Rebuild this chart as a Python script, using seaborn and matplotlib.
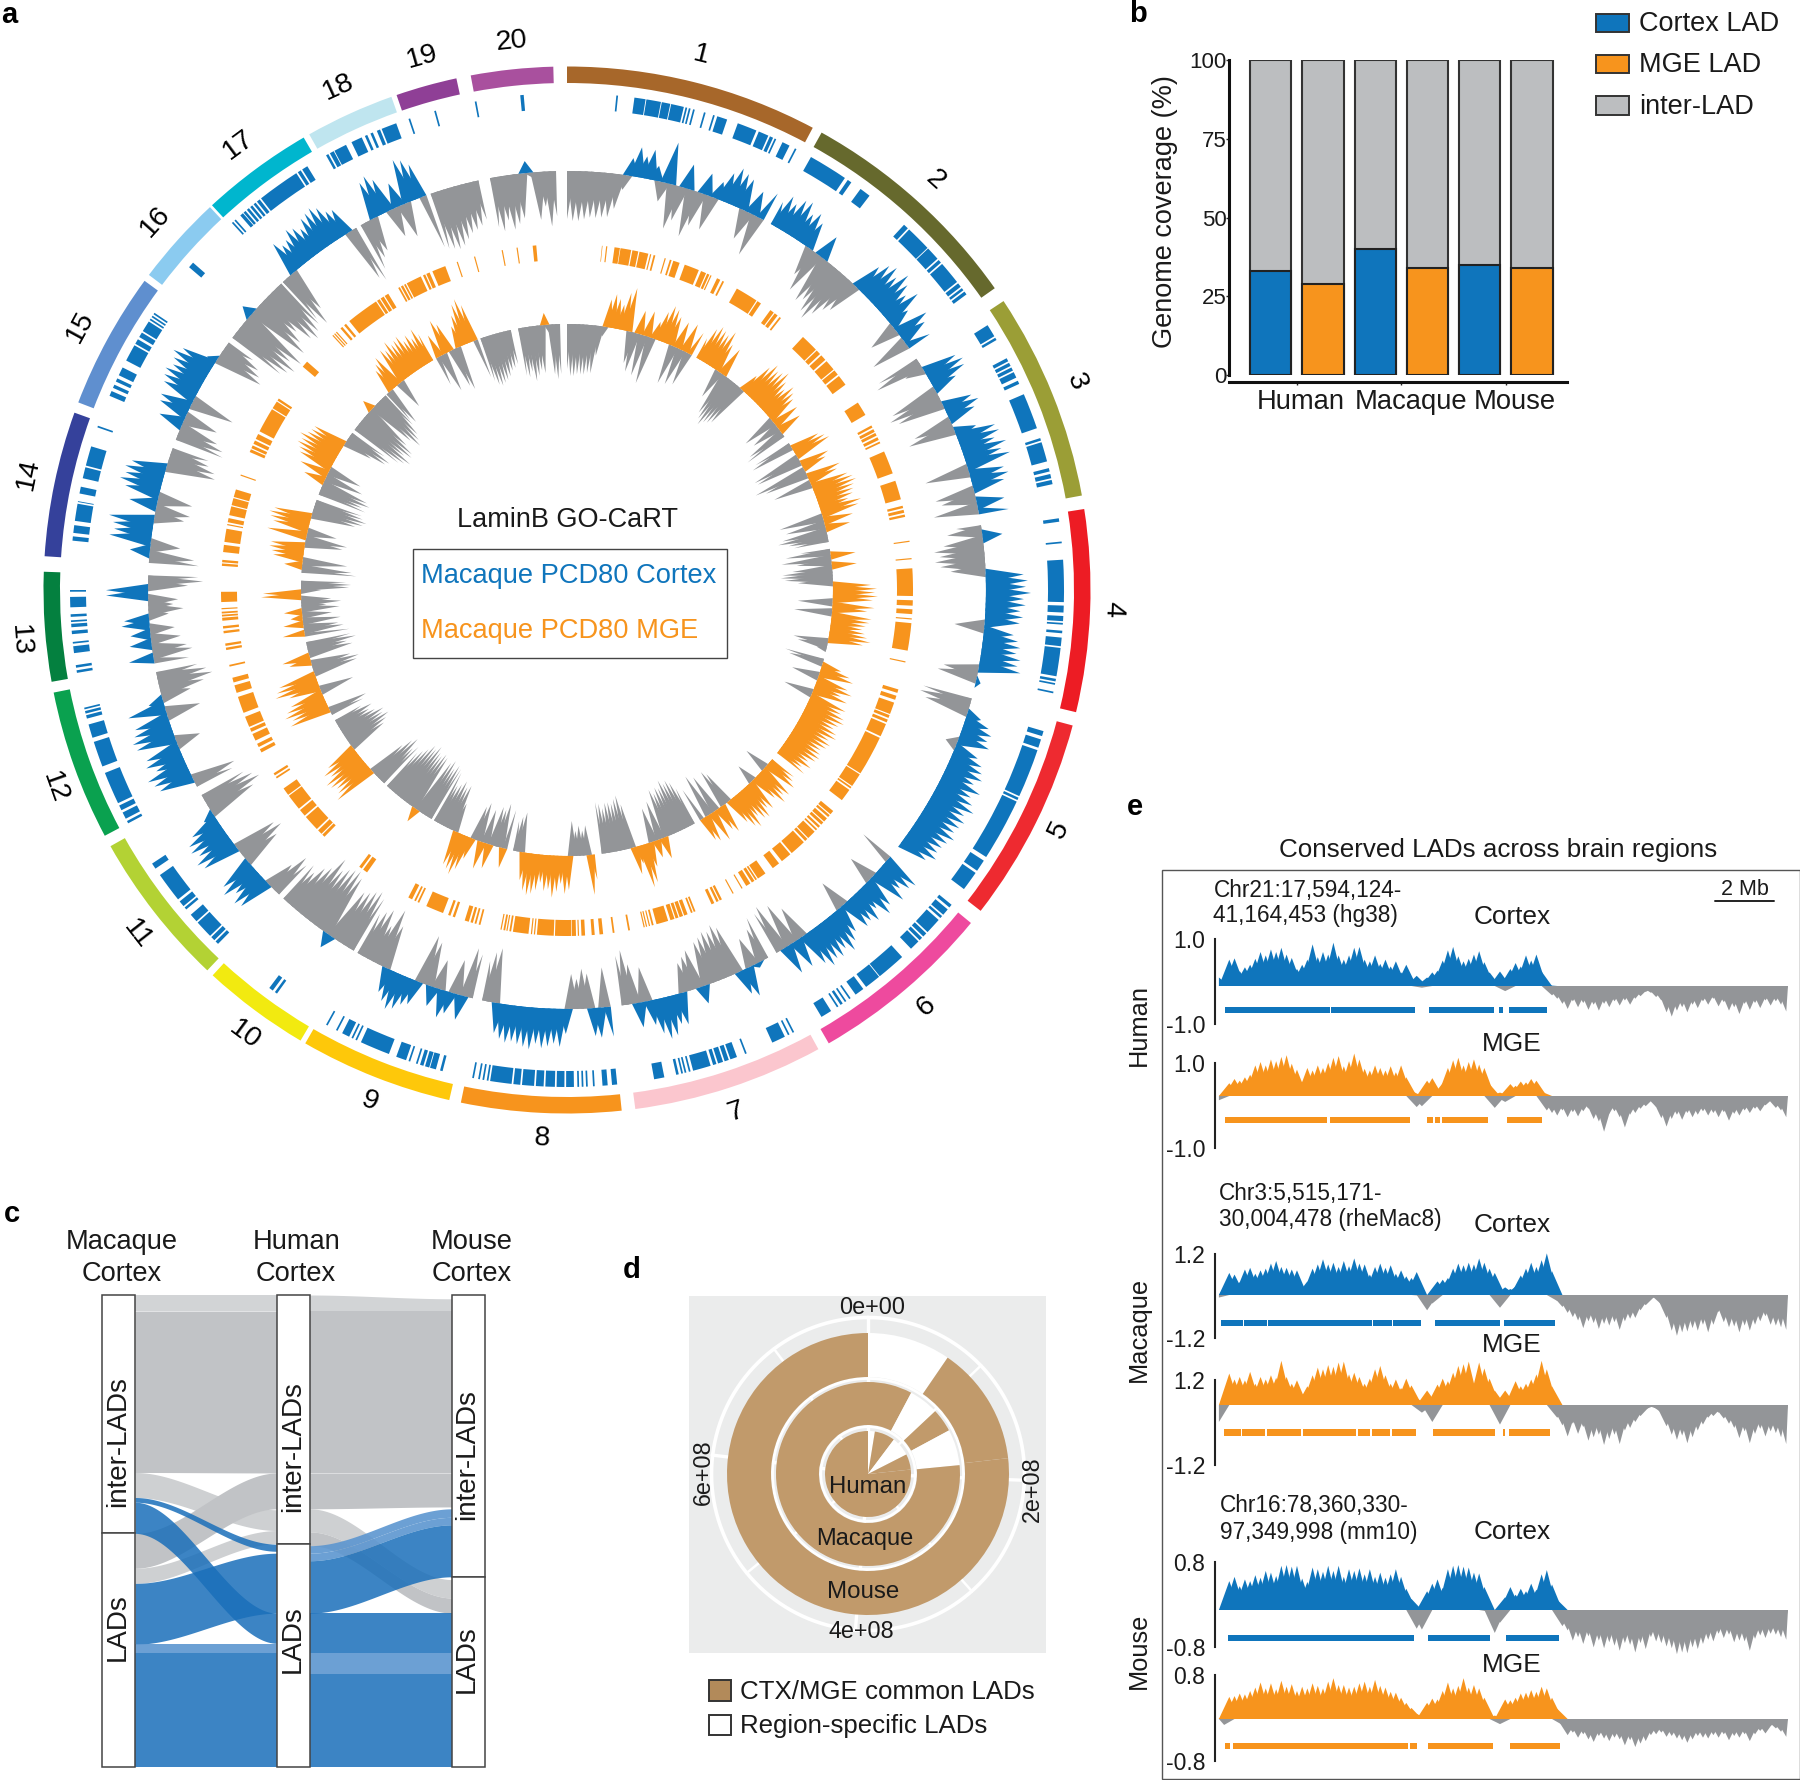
import numpy as np
import pandas as pd
import matplotlib
matplotlib.use("Agg")
import matplotlib.pyplot as plt
from matplotlib.patches import Rectangle
import seaborn as sns

sns.set_theme(style="white")
plt.rcParams["font.family"] = ["Liberation Sans", "DejaVu Sans"]
plt.rcParams["axes.unicode_minus"] = False

W, H = 1800, 1780
BLUE, ORANGE, GREY, LGREY = "#0f75bc", "#f7941d", "#939598", "#bcbec0"

# ---------- panel a data ----------
chrom_names = [str(i) for i in range(1, 21)]
chrom_start = [0, 29.1, 56.5, 81.1, 105, 129.5, 151.3, 174, 193, 210.6, 223.4, 242, 259.9, 273.7, 291, 307, 317.3, 330.5, 341, 349.4]
chrom_end = [28, 54.8, 79.6, 103.5, 127.8, 150, 172.5, 191.7, 210, 222.6, 240.7, 258.7, 272, 289.8, 306.2, 317, 329.8, 340.4, 347.8, 358.5]
chrom_colors = ["#a7672a", "#66692d", "#9b9e36", "#ed1c24", "#ee2a30", "#ee4a9e", "#fbc6ce", "#f7941d", "#fec80a", "#f2ea10",
                "#b3d234", "#0aa14f", "#04803f", "#35419b", "#5f8fcf", "#8bcbf0", "#00b6ce", "#bfe5ef", "#8f3f96", "#a9509e"]

ctx_signal = [
    [-48,-50,-50,-48,-46,-46,-45,-44,-35,-15,18,30,22,30,15,-20,42,-45,-35,25,-48,-35,22,-35,18,30,38,35,32,-30,25,-42,30],
    [25,35,30,38,40,30,35,28,-30,-45,25,-50,-45,-55,-60,-50,-40,-35,30,38,42,35,45,38,30,40,22,-30,35,28,-40,25],
    [-45,-50,-20,35,40,38,25,-50,-55,-48,30,35,28,-40,-48,22,40,42,35,45,38,45,-45,35,38,32,-40,-35,28,-45,30],
    [-25,-35,20,-40,-50,-45,-50,-45,-35,38,42,40,45,38,40,35,38,35,-30,30,35,38,35,40,38,42,-35,-40,5,0],
    [-50,-52,-45,15,25,30,28,32,-12,25,32,35,38,32,42,35,40,45,38,42,40,38,42,38,36,35,38,30,0],
    [-35,38,35,28,38,-28,32,38,25,35,30,32,-30,28,35,42,35,40,38,42,35,-35,30,-45,30,-50,-45],
    [-45,-35,5,-30,30,25,-50,-55,-50,-52,-48,-45,18,-40,-35,-30,32,30,40,42,35,25,-35,25,-40,-55,-50],
    [30,-40,30,28,-35,-40,-30,-35,25,38,35,38,40,36,42,40,38,36,38,35,30,-55,-50,-40],
    [-45,-50,25,-35,22,28,-30,20,-45,-50,25,28,35,38,32,25,-45,-60,-40,-55,-50,-45],
    [-60,-65,-62,-58,-55,15,-65,-70,-68,-65,-60,-70,-55,-50,-40,-45],
    [-40,-45,-30,35,38,30,40,35,-40,-50,-45,38,42,35,40,38,30,12,-50,-60,-55,-48],
    [-40,-45,35,38,42,30,38,35,-25,40,42,38,35,-35,38,15,-30,-45,-55,-50,-42],
    [-35,25,-40,-35,22,-30,20,-25,28,25,-20,-35,-25,-30,42,42,-40,-55,-50],
    [-50,-45,20,-30,42,38,40,45,-30,-35,28,-35,35,42,38,40,35,-50,-48,-40,-38],
    [-50,-48,-40,25,-35,30,32,-45,35,38,40,35,38,42,35,10,-50,-45,-40,-30],
    [-60,-65,-70,-60,-70,12,-65,-55,-45,-60,-65,-60,-55],
    [-50,-60,-45,35,28,30,38,35,30,38,40,42,38,30,28,-55,-60],
    [-50,-40,-35,38,42,35,-30,25,-35,45,42,35,-55],
    [-58,-60,-62,-60,-55,-50,-48,-45,-40],
    [-50,-55,-45,-55,-50,-45,12,-5,-48,-35,-55,-45],
]
mge_signal = [
    [-45,-52,-52,-50,-50,-50,-48,-48,-30,-10,28,34,30,25,38,44,-32,-40,24,-42,26,-48,18,30,38,36,30,-40,28,-38,30,-35,25],
    [22,35,40,38,36,42,30,-30,30,-45,-50,-55,-50,-48,-45,20,35,42,38,40,44,36,30,38,34,30,-35,28,-30,25,-40,-45],
    [-40,-45,30,35,38,-50,-48,30,25,-55,-45,35,30,-40,38,42,44,40,38,36,30,42,38,-45,30,-40,25,-45,-50,-40,-35],
    [-30,-45,25,-50,-35,25,-40,-50,-52,-48,-35,38,44,42,45,40,-35,42,35,-38,40,38,35,32,35,38,42,35,-35,-30,-10,0],
    [-40,-35,20,30,35,-28,32,38,28,36,-30,38,35,40,42,38,35,40,42,36,40,38,34,36,38,36,30,36,28,34],
    [28,30,35,-25,36,32,38,28,-20,34,30,38,36,30,40,36,28,-35,-40,30,25,-40,32,-45,28,25,-35],
    [-40,-48,-52,-50,-55,-48,-50,-45,-50,22,-40,18,-35,25,40,44,18,28,-45,-55,-52,-48,-50,-50,-45,-50,-52],
    [25,40,-30,-25,-30,-25,-35,34,38,28,36,42,34,36,28,36,40,42,38,28,-40,-35,-30],
    [-40,20,-45,-38,-40,25,-35,28,-40,-35,22,35,42,38,35,-30,-48,-45,-50,-45,-42,-55],
    [-58,-60,-55,-62,-58,15,-60,-62,-58,-60,-65,-60,-62,-55,-50,-45],
    [-50,-45,-55,-50,-40,45,40,38,42,44,35,40,32,-40,-45,-50,-45,-48,-40,-35,-40,-30],
    [-35,-40,42,38,44,40,34,-35,32,45,42,38,-45,-48,-40,22,28,-45,-40,-50,-45],
    [-45,22,-40,-35,20,-38,12,-30,18,-38,-25,-40,-30,40,38,-20,-48,-50,-45],
    [-55,-50,18,-45,30,32,35,34,-38,-42,40,-30,36,40,42,38,-45,-52,-55,-50,-48],
    [-50,-45,-52,-48,22,-40,30,-35,35,38,42,40,44,38,36,35,-30,-45,-48,-40],
    [-55,-60,-65,-55,-62,-60,-50,12,-50,-60,-55,-50,-40],
    [-35,-40,25,30,35,-30,38,35,42,36,38,40,32,36,30,38,30],
    [-30,24,-40,36,30,-40,-45,22,32,42,46,38,-40],
    [-45,-50,-52,-50,-48,-45,-40,-38,-35],
    [-48,-50,-45,-55,-50,-45,-48,12,-8,-50,-55,-50],
]
ctx_lads = [
    (5.7,5.9),(7.8,9.1),(9.2,10.9),(11,12),(12.1,13.6),(13.8,14),(14.2,14.4),(14.7,14.9),(16,16.2),(17.1,17.3),(17.6,18.8),(20.1,22.4),(22.7,23.9),(24.1,24.5),(24.7,24.9),(25.7,26.6),(27.3,27.5),
    (29.4,34.0),(34.4,34.9),(36.2,37.5),(42.7,43.3),(43.5,46.5),(46.6,48.2),(48.4,48.8),(49,51.7),(51.9,52.4),(52.6,52.9),(53.1,53.5),
    (57.8,59.3),(59.5,59.8),(62.2,62.6),(62.8,63.2),(63.4,63.8),(64,64.7),(65.1,65.5),(66.8,71),(72.2,72.5),(72.7,75),(75.8,76.2),(76.5,77),(77.2,77.7),
    (81.7,82.1),(84.4,84.6),(86.5,91.4),(91.8,92.6),(93,93.6),(93.8,94),(94.7,95),(95.5,96.5),(96.7,100),(100.3,100.6),(100.8,101),(101.8,102),
    (106.5,107.1),(107.5,108.5),(108.8,114.5),(114.7,115),(115.2,122.5),(123,124.4),(124.7,127),
    (129.3,129.7),(130,130.8),(131,131.3),(131.6,133.5),(133.7,134.2),(134.4,134.8),(135,136.2),(137.6,141),(141.1,143),(143.4,144.5),(145.2,145.4),(145.8,146),(146.3,146.6),(146.9,147.1),(147.9,149.2),
    (152.8,153),(153.4,153.6),(154,155.6),(158.8,159),(160,160.8),(161,161.5),(161.7,162.3),(162.5,162.9),(163.2,165.3),(165.6,165.8),(166.1,166.3),(166.5,166.7),(167,167.3),(168.7,169.9),
    (174.2,174.8),(175.3,175.9),(176.8,177),(177.6,177.8),(178.1,178.3),(178.6,178.8),(179.2,180.1),(180.3,181.2),(181.4,182.5),(182.7,183.6),(183.8,185.2),(185.4,186.2),(186.4,188.9),(189.1,189.3),(189.6,189.8),(190.1,190.3),(190.8,191),
    (194.5,194.8),(195.3,196),(196.1,196.6),(196.8,197.2),(197.5,197.7),(198.4,198.6),(198.9,200.1),(201,204.5),(205,205.2),(205.5,205.7),(206,206.9),(207.5,207.7),(208.8,209),
    (215.7,216),(216.3,216.8),
    (224.6,225),(225.2,225.7),(225.9,228),(228.2,229.2),(230,230.3),(230.5,231.2),(231.5,235),(235.9,236.6),
    (242,242.3),(242.6,243.4),(243.7,244.3),(244.6,248.4),(249.2,252.2),(252.7,254.3),(255,255.4),(255.6,255.9),(256.1,256.3),
    (260.4,260.7),(261,261.3),(262.7,263.5),(263.8,264),(264.9,265.3),(265.7,266.1),(266.3,266.5),(266.9,267.2),(268,269.2),(269.8,270),
    (275.7,276.2),(276.6,277.5),(278,280),(280.2,280.3),(281.2,282),(283,284.3),(284.5,286.8),(289.1,289.3),
    (293,293.6),(294,294.4),(294.8,295.2),(295.6,296.6),(297.5,299.5),(299.7,300.3),(300.6,301.2),(301.4,302.7),(302.9,303.1),(303.3,303.5),(303.7,303.9),
    (310.5,311.2),
    (317.6,317.8),(318,318.2),(318.9,319.3),(319.4,319.7),(319.9,320.2),(320.4,320.7),(320.9,321.2),(321.4,321.8),(322,327),(327.2,327.6),(327.8,328.5),
    (331,331.3),(331.5,332),(332.1,333.6),(334.3,335.6),(336,336.3),(336.7,337),(337.5,337.9),(338.1,339.9),
    (341.4,341.6),(344.5,344.7),(349.3,349.5),(354.6,355),
]
mge_lads = [
    (5.8,5.9),(6.5,6.7),(7.9,8.8),(8.9,10.7),(10.9,11.9),(12.1,13.6),(13.9,14.1),(14.5,14.8),(16.4,16.6),(17.3,17.6),(17.9,19),(19.9,22.4),(22.8,23.7),(23.9,24.3),(24.5,24.7),(25.7,26.3),(26.7,27),
    (29.4,33.2),(33.4,34.1),(36,36.7),(36.9,37.5),(37.9,38.2),(43,46),(46.2,47),(47.3,48.3),(48.6,50.4),(50.6,51.5),(51.8,53.6),
    (57.2,59.6),(61.6,62),(62.3,62.8),(63,63.5),(63.8,64.3),(64.6,64.9),(66.4,70.3),(71.6,74.8),(75.9,76.3),(76.6,77.1),(77.4,77.8),
    (81.8,82),(84.7,84.9),(86.4,91),(91.7,92.6),(93.2,94),(94.7,94.9),(95.5,100.1),(101.9,102.1),
    (106.7,107.3),(107.8,108.5),(109,111),(111.2,111.7),(112,112.5),(112.8,115),(115.3,122),(122.2,124.5),(124.7,125),(125.3,127.4),
    (129.7,130.4),(130.6,131),(131.3,132),(132.2,132.7),(133,133.4),(133.7,134),(134.3,135.8),(136,136.5),(136.8,139.5),(139.8,141.6),(142.2,143.5),(145,146.5),(146.7,147),(147.2,147.7),(148,148.8),(149.5,149.7),
    (151.2,151.4),(153.4,153.8),(154,154.4),(154.8,155.3),(158.2,158.5),(158.7,159),(159.6,160.2),(160.4,161),(161.2,161.7),(161.9,162.6),(163,165),(165.5,165.8),(166.1,166.3),(166.6,166.8),(167,167.2),(169.5,169.8),(172.1,172.4),
    (174,174.6),(175.4,175.9),(177,177.6),(178,178.2),(178.5,179.2),(179.3,182),(182.2,185),(185.3,185.5),(185.8,186),(186.4,189),(189.3,189.6),(189.9,190.1),(190.3,190.6),(190.9,191.1),
    (194.5,194.8),(195.2,195.5),(195.8,196.2),(196.5,197.2),(198.9,199.3),(199.7,200.1),(201,204),(205.3,205.6),(205.9,206.2),(206.6,207.3),
    (215.3,216.1),(216.4,216.9),
    (224.5,225),(225.2,226),(226.3,229),(229.3,230.5),(230.8,233.5),(233.7,235),(237,237.3),(237.6,238),
    (242,242.6),(243,243.6),(244.2,245.4),(245.8,246.4),(246.7,248.5),(249.2,252),(252.7,254),(254.5,255.3),(257.2,257.5),
    (260,260.4),(260.7,261.1),(262.8,263.2),(263.6,264),(264.9,265.4),(265.6,265.9),(266.1,266.4),(266.8,267),(268,269.7),
    (274,274.4),(274.6,275),(276.3,277.5),(278,280.2),(280.8,281),(281.3,282),(282.5,284),(284.2,285.4),(285.6,286.9),(289.3,289.5),
    (293.5,294),(294.2,294.7),(295,295.6),(295.9,296.8),(297.3,301.5),(301.7,303),(303.2,303.6),
    (310.2,311.3),
    (317.3,317.5),(317.7,317.9),(318.1,318.3),(319.1,319.5),(319.9,320.3),(321,326.5),(326.7,327.2),(327.4,328),(328.2,328.9),
    (330.8,331.1),(331.3,331.7),(331.9,332.2),(332.4,335),(335.4,335.8),(336,336.6),(337.1,339.4),
    (341.4,341.6),(344.4,344.6),(349.1,349.3),(351.6,351.8),(354.3,354.9),
]

# ---------- panel b data ----------
b_samples = ["H-CTX", "H-MGE", "M-CTX", "M-MGE", "Ms-CTX", "Ms-MGE"]
b_lad = [33, 29, 40, 34, 35, 34]
b_kind = ["Cortex LAD", "MGE LAD"] * 3
b_total = [100] * 6

# ---------- panel c data ----------
c_columns = ["Macaque\nCortex", "Human\nCortex", "Mouse\nCortex"]
c_split = [49.5, 47.3, 40.3]
flows_ab = [
    (100, 96.6, 100, 96.6, "vlg"), (96.6, 62.4, 96.6, 62.3, "g"), (62.4, 57.1, 54.5, 50.1, "lg"),
    (49.5, 42.1, 62.3, 54.7, "g"), (42.1, 38.9, 50.1, 47.3, "lg"), (57.1, 56.1, 47.2, 45.7, "b"),
    (56.1, 49.5, 32.6, 26.2, "b"), (38.9, 26, 45.3, 32.6, "b"), (26, 24.2, 26, 24.2, "lb"), (24.2, 0, 24.2, 0, "b"),
]
flows_bc = [
    (100, 96.6, 99.2, 96.6, "vlg"), (96.6, 62.3, 96.6, 62.3, "g"), (62.3, 54.7, 62.3, 55.1, "g"),
    (54.7, 49.8, 39.7, 35.8, "lg"), (49.8, 46.9, 35.8, 32.6, "g"), (46.9, 45.3, 54.7, 52.9, "lb"),
    (45.3, 43.7, 52.9, 51.3, "lb"), (43.7, 32.6, 51.3, 40.3, "b"), (32.6, 26.2, 32.6, 26.2, "b"),
    (26.2, 24.2, 26.2, 24.2, "b"), (24.2, 19.6, 24.2, 19.6, "lb"), (19.6, 0, 19.6, 0, "b"),
]

# ---------- panel d data ----------
d_full = 7.8e8
d_species = ["Human", "Macaque", "Mouse"]
d_inner = [0, 49, 97]
d_outer = [43, 92, 141]
d_edges = [
    [0, 0.2e8, 0.8e8, 1.365e8, 1.82e8, 7.8e8],
    [0, 0.607e8, 1.016e8, 1.337e8, 1.83e8, 7.8e8],
    [0, 0.745e8, 1.81e8, 7.8e8],
]
d_kinds = [
    ["s", "c", "s", "c", "c"],
    ["c", "s", "c", "s", "c"],
    ["s", "c", "c"],
]

# ---------- panel e data ----------
e_hc = [20,12,62,65,35,44,50,64,80,72,86,80,90,74,66,40,50,62,98,68,80,74,102,72,62,72,90,92,62,58,72,52,62,46,58,32,50,18,24,-4,20,32,36,60,84,92,70,58,64,74,82,56,32,6,34,-12,40,54,46,72,60,74,34,2,
        -22,-30,-42,-54,-36,-50,-40,-56,-44,-58,-42,-50,-36,-46,-34,-44,-30,-24,-14,-16,-26,-34,-62,-72,-58,-50,-62,-44,-52,-36,-44,-30,-48,-38,-58,-50,-66,-42,-56,-40,-52,-34,-46,-36,-44,-60]
e_hm = [-10,8,30,40,36,44,50,72,80,72,86,82,92,96,76,62,34,66,60,72,66,78,90,94,70,82,100,86,64,60,72,66,60,70,56,72,44,12,-26,-24,36,42,14,30,66,84,90,72,80,86,74,66,28,-28,8,-14,28,24,34,32,40,36,10,
        -34,-40,-46,-34,-50,-38,-48,-36,-30,-54,-60,-84,-42,-36,-50,-74,-44,-40,-30,-24,-10,-26,-52,-72,-54,-44,-56,-40,-50,-44,-36,-46,-40,-50,-38,-58,-42,-46,-34,-40,-30,-36,-22,-10,-28,-34,-50]
e_mc = [-6,18,52,48,30,60,64,50,58,62,74,80,66,64,60,58,14,32,62,72,84,72,76,66,80,68,86,74,72,48,66,74,64,70,50,58,44,40,54,-2,-36,-20,32,36,40,62,74,70,76,72,86,76,62,52,-30,18,14,20,46,62,76,66,82,98,56,
        -14,-28,-42,-52,-60,-78,-62,-66,-80,-68,-72,-64,-82,-62,-56,-54,-36,-24,-8,-4,-22,-54,-84,-96,-88,-86,-78,-84,-70,-88,-70,-40,-64,-76,-74,-88,-72,-84,-70,-62,-50,-70,-72,-76,-82]
e_mm = [-40,6,74,60,66,58,78,50,66,60,70,64,104,66,50,58,24,44,70,88,84,94,90,100,102,72,76,66,50,62,84,92,70,50,60,40,62,46,16,-18,34,-40,48,62,56,76,92,96,102,30,100,86,62,34,-46,34,16,56,44,50,60,72,104,84,44,
        -30,-48,-74,-44,-68,-52,-84,-76,-70,-94,-80,-70,-92,-60,-54,-40,-26,-10,-2,-8,-18,-50,-70,-82,-72,-90,-76,-60,-46,-30,-26,-18,-32,-44,-54,-78,-62,-90,-68,-56,-74,-62,-66,-76,-92]
e_xc = [0,4,68,78,56,72,68,82,76,92,88,80,104,106,102,104,74,66,100,96,90,104,92,104,78,96,92,98,84,96,78,88,76,84,96,78,50,26,-44,-46,44,62,72,52,96,104,106,102,100,88,86,54,-4,-54,-30,30,54,36,50,44,62,48,84,94,60,24,
        -38,-48,-72,-64,-80,-62,-88,-72,-90,-76,-84,-96,-78,-82,-100,-78,-92,-64,-74,-78,-86,-90,-104,-100,-102,-88,-92,-80,-70,-74,-56,-66,-58,-76,-72,-74,-96,-68,-60,-66,-56,-58,-64,-70]
e_xm = [2,-14,52,54,60,58,66,74,86,72,84,70,90,76,82,66,76,72,84,78,72,88,96,80,80,74,76,84,88,76,92,78,74,64,62,50,38,26,12,8,38,48,46,66,86,72,78,96,74,80,72,50,4,8,-12,46,44,50,60,62,68,64,76,72,50,24,
        -14,-38,-32,-44,-36,-48,-54,-40,-46,-52,-44,-48,-62,-50,-66,-58,-52,-38,-36,-32,-42,-40,-46,-50,-56,-48,-40,-44,-46,-38,-44,-36,-50,-40,-44,-36,-52,-36,-28,-34,-16,-22,-30,-42]
e_lads_hc = [(242,483),(487,680),(712,863),(873,882),(897,984)]
e_lads_hm = [(243,478),(484,669),(707,722),(726,738),(742,849),(893,973)]
e_lads_mc = [(233,283),(287,338),(342,580),(584,626),(630,695),(727,877),(885,1002)]
e_lads_mm = [(240,278),(282,334),(339,417),(421,545),(549,576),(580,622),(626,682),(722,864),(882,888),(896,992)]
e_lads_xc = [(249,678),(709,854),(889,1012)]
e_lads_xm = [(241,253),(261,665),(669,685),(709,861),(899,1015)]

fig = plt.figure(figsize=(W / 100, H / 100), dpi=100, facecolor="white")


def px_axes(x0, y0, x1, y1, **kw):
    return fig.add_axes([x0 / W, 1 - y1 / H, (x1 - x0) / W, (y1 - y0) / H], **kw)


# overlay in the coordinates of the shrunk reference
ov = fig.add_axes([0, 0, 1, 1], zorder=30)
ov.set_xlim(0, 1568)
ov.set_ylim(1551, 0)
ov.axis("off")
ov.patch.set_alpha(0)


def T(x, y, s, size=18, ha="center", va="center", **kw):
    kw.setdefault("color", "#1a1a1a")
    dy = 1.5 if "rotation" in kw else 3
    ov.text(x, y + dy, s, fontsize=size, ha=ha, va=va, **kw)


def spikes(ax, pos, vals, base, color, half, lo, hi):
    """one pointed mark per value, standing on the baseline"""
    for p, v in zip(pos, vals):
        if v == 0:
            continue
        ax.fill([max(p - half, lo), p, min(p + half, hi)], [base, base + v, base], color=color, linewidth=0, clip_on=False)


for lab, x, y in [("a", 8, 10), ("b", 991, 9), ("c", 10, 1055), ("d", 550, 1104), ("e", 989, 700)]:
    T(x, y, lab, size=21, fontweight="bold", color="black")

# ---------- panel a ----------
cx, cy, Rmax = 567, 590, 535
axa = px_axes(cx - Rmax, cy - Rmax, cx + Rmax, cy + Rmax, projection="polar")
axa.set_theta_zero_location("N")
axa.set_theta_direction(-1)
axa.set_ylim(0, Rmax)
axa.axis("off")
axa.patch.set_alpha(0)

for s, e, c in zip(chrom_start, chrom_end, chrom_colors):
    axa.bar(np.radians((s + e) / 2), 16.5, width=np.radians(e - s), bottom=507, color=c, linewidth=0)
for s, e in ctx_lads:
    axa.bar(np.radians((s + e) / 2), 16, width=np.radians(e - s), bottom=481, color=BLUE, linewidth=0)
for s, e in mge_lads:
    axa.bar(np.radians((s + e) / 2), 16, width=np.radians(e - s), bottom=330, color=ORANGE, linewidth=0)


def signal_track(tracks, base, color):
    for vals, s, e in zip(tracks, chrom_start, chrom_end):
        v = np.array(vals, dtype=float)
        th = np.radians(np.linspace(s, e, len(v)))
        half = 1.25 * (th[1] - th[0])
        spikes(axa, th[v < 0], v[v < 0], base, GREY, half, th[0], th[-1])
        spikes(axa, th[v > 0], v[v > 0], base, color, half, th[0], th[-1])


signal_track(ctx_signal, 419, BLUE)
signal_track(mge_signal, 266, ORANGE)

label_xy = [(611, 48), (815, 157), (938, 333), (970, 531), (923, 723), (807, 877), (641, 969), (472, 992), (322, 960), (213, 902),
            (120, 814), (48, 686), (17, 558), (25, 413), (70, 285), (135, 193), (208, 126), (295, 76), (368, 50), (446, 36)]
for name, s, e, (lx, ly) in zip(chrom_names, chrom_start, chrom_end, label_xy):
    a = (s + e) / 2
    rot = -a if a < 100 or a > 270 else 180 - a
    ov.text(lx, ly, name, fontsize=20.5, rotation=rot, ha="center", va="center", rotation_mode="default", color="black")

T(494, 450, "LaminB GO-CaRT", size=19.5)
ov.add_patch(Rectangle((360, 478), 273, 95, fill=False, edgecolor="#444444", lw=1))
T(367, 499, "Macaque PCD80 Cortex", size=19.6, ha="left", color=BLUE)
T(367, 547, "Macaque PCD80 MGE", size=19.6, ha="left", color=ORANGE)

# ---------- panel b ----------
S = W / 1568
axb = px_axes(1071 * S, 60, 1365 * S, 375)
dfb = pd.DataFrame({"sample": b_samples, "total": b_total, "lad": b_lad, "kind": b_kind})
sns.barplot(data=dfb, x="sample", y="total", color=LGREY, width=0.79, saturation=1, edgecolor="#333333", linewidth=1.5, ax=axb, order=b_samples)
sns.barplot(data=dfb, x="sample", y="lad", hue="kind", palette={"Cortex LAD": BLUE, "MGE LAD": ORANGE}, dodge=False, width=0.79,
            saturation=1, edgecolor="#222222", linewidth=1.5, ax=axb, order=b_samples, legend=False)
axb.set_xlim(-0.79, 5.67)
axb.set_ylim(0, 100)
axb.set_xlabel("")
axb.set_ylabel("")
sns.despine(ax=axb)
axb.patch.set_alpha(0)
axb.spines["left"].set_linewidth(2.2)
axb.spines["left"].set_color("#111111")
axb.spines["bottom"].set_linewidth(2.2)
axb.spines["bottom"].set_color("#111111")
axb.spines["bottom"].set_position(("outward", 5))
axb.set_yticks([0, 25, 50, 75, 100])
axb.set_yticklabels(["0", "25", "50", "75", "100"], fontsize=16, color="#1a1a1a")
axb.set_xticks([0.5, 2.5, 4.5])
axb.set_xticklabels([])
axb.tick_params(axis="y", length=2, width=1, pad=0, left=True)
axb.tick_params(axis="x", length=2, width=1, bottom=True)
T(1133, 347, "Human", size=19.7)
T(1229, 347, "Macaque", size=19.7)
T(1320, 347, "Mouse", size=19.7)
T(1015, 183, "Genome coverage (%)", size=19.5, rotation=90)
for y, lab, col in zip([12, 48, 84], ["Cortex LAD", "MGE LAD", "inter-LAD"], [BLUE, ORANGE, LGREY]):
    ov.add_patch(Rectangle((1390, y), 29, 16, facecolor=col, edgecolor="#333333", lw=1.4))
    T(1428, y + 6, lab, size=19.5, ha="left")

# ---------- panel c ----------
axc = px_axes(102, 1295, 485, 1767)
axc.set_xlim(102, 485)
axc.set_ylim(0, 100)
axc.axis("off")
col_left = [102, 277, 452]
col_w = 33
fcol = {"g": ("#c1c3c6", 1), "lg": ("#c9cbcd", 0.9), "vlg": ("#d2d4d6", 1), "b": ("#1a6fba", 0.85), "lb": ("#5c96d0", 0.9)}
t = np.linspace(0, 1, 60)
sig = t * t * (3 - 2 * t)
for flows, a, b in [(flows_ab, col_left[0] + col_w, col_left[1]), (flows_bc, col_left[1] + col_w, col_left[2])]:
    for l0, l1, r0, r1, k in flows:
        axc.fill_between(a + (b - a) * t, l0 + (r0 - l0) * sig, l1 + (r1 - l1) * sig, color=fcol[k][0], alpha=fcol[k][1], linewidth=0)
for x, sp in zip(col_left, c_split):
    axc.add_patch(Rectangle((x, sp), col_w, 100 - sp, facecolor="white", edgecolor="#444444", lw=1.1, zorder=5, clip_on=False))
    axc.add_patch(Rectangle((x, 0), col_w, sp, facecolor="white", edgecolor="#444444", lw=1.1, zorder=5, clip_on=False))
for x, l in zip([106, 258, 411], c_columns):
    a_, b_ = l.split("\n")
    T(x, 1079, a_, size=19.6)
    T(x, 1107, b_, size=19.6)
for x, y1, y2 in [(103, 1255, 1416), (255, 1259, 1427), (407, 1266, 1444)]:
    T(x, y1, "inter-LADs", size=20, rotation=90)
    T(x, y2, "LADs", size=20, rotation=90)

# ---------- panel d ----------
bgd = px_axes(689, 1296, 1046, 1653)
bgd.set_facecolor("#ebecec")
bgd.set_xticks([])
bgd.set_yticks([])
for sp_ in bgd.spines.values():
    sp_.set_visible(False)
axd = px_axes(868 - 160, 1474 - 160, 868 + 160, 1474 + 160, projection="polar")
axd.set_theta_zero_location("N")
axd.set_theta_direction(-1)
axd.set_ylim(0, 160)
axd.axis("off")
axd.patch.set_alpha(0)
circle_t = np.linspace(0, 2 * np.pi, 300)
for r, lw in [(47.3, 2), (95.5, 2), (156.5, 2.6)]:
    axd.plot(circle_t, np.full_like(circle_t, r), color="white", lw=lw, zorder=1)
for k in range(8):
    th = k * 1e8 / d_full * 2 * np.pi
    axd.plot([th, th], [0, 157], color="white", lw=2.4 if k % 2 == 0 else 1.8, zorder=1)
dcol = {"c": "#c19a6b", "s": "white"}
for r0, r1, edges, kinds in zip(d_inner, d_outer, d_edges, d_kinds):
    e = np.array(edges) / d_full * 2 * np.pi
    for a, b, k in zip(e[:-1], e[1:], kinds):
        axd.bar((a + b) / 2, r1 - r0, width=b - a, bottom=r0, color=dcol[k], linewidth=0, zorder=3)
T(760, 1136, "0e+00", size=16.8)
T(899, 1296, "2e+08", size=16.8, rotation=90)
T(750, 1419, "4e+08", size=16.8)
T(613, 1281, "6e+08", size=16.8, rotation=90)
for sp_name, y, x_, fs in zip(d_species, [1293, 1338, 1384], [756, 753, 752], [17.3, 17, 17.4]):
    T(x_, y, sp_name, size=fs)
for y, lab, col in zip([1464, 1494], ["CTX/MGE common LADs", "Region-specific LADs"], ["#b28a5a", "white"]):
    ov.add_patch(Rectangle((618, y), 19, 18, facecolor=col, edgecolor="#333333", lw=1.4))
    T(645, y + 7, lab, size=18.6, ha="left")

# ---------- panel e ----------
ov.add_patch(Rectangle((1012, 758), 556, 792, fill=False, edgecolor="#555555", lw=1))
T(1305, 738, "Conserved LADs across brain regions", size=18.7)
T(1520, 772, "2 Mb", size=15.5)
ov.plot([1494, 1545], [785, 785], color="#222222", lw=1.4)

tracks = [
    (e_hc, e_lads_hc, 939, 1024, 986, 1007, 1013, BLUE, "1.0", "-1.0"),
    (e_hm, e_lads_hm, 1063, 1148, 1096, 1117, 1123, ORANGE, "1.0", "-1.0"),
    (e_mc, e_lads_mc, 1254, 1338, 1295, 1319.5, 1325.5, BLUE, "1.2", "-1.2"),
    (e_mm, e_lads_mm, 1380, 1465, 1405, 1429, 1436, ORANGE, "1.2", "-1.2"),
    (e_xc, e_lads_xc, 1562, 1647, 1610, 1635, 1641, BLUE, "0.8", "-0.8"),
    (e_xm, e_lads_xm, 1675, 1761, 1719, 1743, 1749, ORANGE, "0.8", "-0.8"),
]
PX_PER_UNIT = 0.425
for vals, lads, top, bot, base, bar0, bar1, col, lab_hi, lab_lo in tracks:
    ax = px_axes(1215, top, 1788, bot)
    ax.patch.set_alpha(0)
    hi = (base - top) / PX_PER_UNIT
    lo = -(bot - base) / PX_PER_UNIT
    x = 228 + 12 * np.arange(len(vals))
    v = np.array(vals, dtype=float)
    spikes(ax, x[v < 0], v[v < 0], 0, GREY, 24, 228, 1540)
    spikes(ax, x[v > 0], v[v > 0], 0, col, 24, 228, 1540)
    ax.broken_barh([(a, b - a) for a, b in lads], (-(bar1 - base) / PX_PER_UNIT, (bar1 - bar0) / PX_PER_UNIT), facecolor=col, linewidth=0)
    ax.set_xlim(219, 1540)
    ax.set_ylim(lo, hi)
    sns.despine(ax=ax, bottom=True)
    ax.spines["left"].set_linewidth(1.5)
    ax.spines["left"].set_color("#222222")
    ax.set_xticks([])
    ax.set_yticks([lo, hi])
    ax.set_yticklabels([lab_lo, lab_hi], fontsize=16.5, color="#1a1a1a")
    ax.tick_params(axis="y", length=0, pad=7, left=False)

T(1057, 773, "Chr21:17,594,124-", size=16.3, ha="left")
T(1057, 795, "41,164,453 (hg38)", size=16.3, ha="left")
T(1062, 1037, "Chr3:5,515,171-", size=16.3, ha="left")
T(1062, 1060, "30,004,478 (rheMac8)", size=16.3, ha="left")
T(1063, 1309, "Chr16:78,360,330-", size=16.3, ha="left")
T(1063, 1332, "97,349,998 (mm10)", size=16.3, ha="left")
for y, s in [(796, "Cortex"), (907, "MGE"), (1064, "Cortex"), (1169, "MGE"), (1332, "Cortex"), (1448, "MGE")]:
    T(1317, y, s, size=18.9)
for y, s in [(892, "Human"), (1157, "Macaque"), (1437, "Mouse")]:
    T(992, y, s, size=18.3, rotation=90)

fig.savefig("out.png", dpi=100, facecolor="white")
